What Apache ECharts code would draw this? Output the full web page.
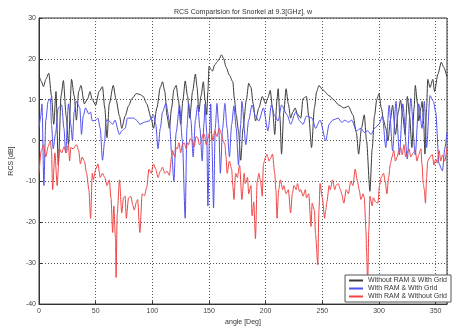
<!DOCTYPE html>
<html>
<head>
<meta charset="utf-8">
<script src="https://cdn.jsdelivr.net/npm/echarts@6/dist/echarts.min.js"></script>
<style>
  html, body { margin: 0; padding: 0; background: #fff; }
  #chart { width: 456px; height: 331px; }
</style>
</head>
<body>
<div id="chart"></div>
<script>
// Without RAM & With Grid
const blackDeg = [0,2,4,6,8.6,11,13,15,17,19.5,21.5,24,26,28.7,31,33,35,37,40,43,45,47,50,53,56,58,60,62,65.5,68,71,73,76,79,82,86,89,92,95,99,
  101,104,107,109,111,113,115,117,119,121,123,125,127,129,131,133,135.5,138,139.5,141,143,145,146.5,148,149,150,151.5,153,155,157,159,161,163,165,168,171,172.5,174,176,178,180,183,185,187,189,191,194,197,200,
  202,204,206,208,210,211,212.5,214,216,218,220,222,224,226,228,231,233,236,238,240.5,243,245,247,250,256,260,264.5,269,273,277,280,282,284.5,287,289,292,294,296,298,300,
  302,304,306,308,310,312,314.5,317,319,321,323,325,327,329,331,332,334,335,337,338,339.5,340.5,342,343,345,347.5,349,352,355,357,360];
const blackDb = [16,14.5,13.2,15,16.5,11,4,12,-6,11,14.7,6,-1,15,11,5,12,13.5,9,10.3,12,10,8.7,12,13.2,8,0.7,9,13.5,10,6,3,6,8.5,10.3,11.5,11.3,10.8,9,5.5,
  3,8,13,14.4,12,6,3,8,12.5,13.5,10,4,10,14.6,11,5.5,12,16.3,13,7,11,14.4,10,6.3,12,18.2,17.5,17,18.5,19.2,20,21,20,18,16,14.4,10,6.3,2.4,-4.8,3,10,14,13,9,4.8,8,10.8,9,
  10.5,12.3,8,1.5,10,12.7,6,-3.3,7,12.7,9,5.5,7,8,6.5,5.5,10.3,10.8,6,-1.7,8,12,13.5,12.5,11,10,8.7,8,8.4,6.3,2,-3.3,3,6.3,0,-12.4,-2,6,10,11.5,
  8,5,3,0,5,8.7,1.5,7,9.9,6,1.5,10.8,6,-1.7,8,13.5,9,4.8,8,9.6,4,-3.3,8,15,13,15,12,16.3,19.2,18,15.6];

// With RAM & With Grid
const blueDeg = [0,1.5,2.6,4.3,6,8,10,11,12.5,14.5,17,20,22,23.5,26,28,29.5,31,33,36,37.5,39,41,44,45.5,47,50,52,54,56,58,59,61,65,67,71,73,76,78,83.5,86,89,93,97,
  101,103,105,107,109,112,115,117,119,121,124,126.5,129,130.5,132,134,136,138,140,142,144,145.5,146.5,148,149,150.5,151.5,152.5,154,155.5,157,158.5,160,162,164,166,168,170,172,174,176,178,179,182.5,185,188,191,194,198,
  202,205,208,211,214,219,222,226.5,230,233,236,241,244,248,253,256,259,264,267,270,273,276,280,284,287,290,293,296,300,
  303,306,309,312,315,318,321,325,328,332,335,338,340,342,345,348,350,353,356,358,360];
const blueDb = [3,6,9,-11,5,9.6,10.3,4,-2,1.5,8,8.7,3,-3,9,4,0,7,9.6,8,1.5,6,8,6.5,7,4.8,5,5.5,3,-4.8,0,5,5,4,5,1.5,2.4,3,5.5,5.5,5,4,4.5,4.8,
  6.3,4,-2,3,7,9.1,5,-3,-10,2,8.7,0,-19,3,9.1,5,-4,5,8.7,3,-5,4,9,2,-16,2,9,0,-16.5,3,9.1,4,-8,3,9.1,3,-4,4,8.5,3,-6,4,9.6,-1,5,8.7,6,4.8,8,
  2.4,8.7,6,4.8,8.7,6.3,4,7,4.8,4,6,5.5,3,5,0,4,5,5.5,4.5,5,4.5,5,2.4,3,2,2.4,1.5,3,4,
  6,-1.7,8.7,-2.5,9.6,-3.5,9,-4.5,10.3,-3.5,9,3,9.6,-1.7,11,9.6,7,-5.7,-7.4,-2,2];

// With RAM & Without Grid
const redDeg = [0,2,4,6,8,10,11,12,14,16,18,20,22,24,26,27,28,30,33,35,36.5,38,40,42,44,45.5,47,48,50,52,54,56,58,60,62,63.5,65,66,67.5,68,69,71,73,74.5,76,77,79,81,83,84,86,87,89,91,93,95,97,99,
  101,103,105,107,109,111,113,115,117,118,119,120,121,122,123.5,125,126.5,128,130,131,132,133.5,135,137,138.5,140,141.5,143,144.5,146,147.5,149,150.5,152,153.5,155,157,159,161,162.5,164,165,166,168,170,171,172,173.5,175,177,179,181,182,184,185,187,188,189.5,191,192.5,194,195.5,197,198,200,
  201,203,204,206,208,209,210,211.5,213,215,216,218,220,222,223.5,225,227,228,230,231,233,235,236,238,240,241,243,244,246,247,248,250,252,253,254,256,257,259,261,262,264,266,267,269,271,273,275,277,279,281,282.5,284,286,287,288.5,289,290,291,292,294,295,297,299,
  300.5,302,304,305.5,307,308.5,310,311.5,313,314.5,316,317.5,319,320.5,322,323.5,325,326.5,328,330,332,333.5,335,337,338,339,340,341,342,343,345,347,348.5,350,351.5,353,354.5,356,358,360];
const redDb = [-8,-2.4,-1,-4,-1.5,0,-2.4,-12,-3,-11,-2,-3,-1.5,-3,-1,-5,-1.7,-2,-1,-2.4,-5.7,-4,-5,-8,-12,-19,-8,-9.6,-7,-5.7,-9,-8,-9,-11,-9.6,-14,-22.5,-16,-24,-33.5,-18,-9.6,-17.7,-14,-13.6,-19,-14,-13.6,-16,-17,-15,-14.4,-22.5,-13,-13.5,-11.5,-7,-8,
  -5.7,-7,-9,-7.5,-6.5,-8,-7.5,-8.5,-4,-2.4,-3.5,-4,-1.7,-2,-0.5,-3,-1,-0.5,-2,-0.5,-1,0.5,0,-1.5,1,0.7,-1,-0.5,1.5,1.5,-1,0.5,2,2,0,2.4,1,3,1.5,0,-1,-4,-8,-5,-7,-11,-14.4,-8,-9,-6,-14.4,-8,-10.5,-9,-13,-11,-18.4,-15,-24,-10,-8,-10,-13.6,-5.7,-4,
  -3.3,-5,-4.5,-3.3,-8,-12,-19,-12,-9.6,-12,-11,-13,-12,-17.7,-13,-11,-12,-10.5,-12.5,-12,-13.6,-12,-14,-13,-21,-15.3,-17,-23,-30.4,-17,-10.5,-14,-19,-17,-15,-11,-12,-9.6,-12,-11,-10.5,-12,-13,-15.3,-12,-13,-10,-11,-7,-10,-12,-14.4,-13,-14,-22,-27,-35,-22,-13.6,-16,-14,-15,-15.3,
  -11,-9,-8,-10,-13,-9,-5.7,-4,-2.4,-5,-4,-2.5,-1.7,-3.5,-1,-4,-3,-2,-4,-3,-2.4,-5,-3.5,-2,-6,-10.5,-12,-15.3,-9,-5,-4,-3.4,-6,-4.5,-5.5,-2.4,-5,-3.5,-5,-1.7];

const seriesNames = ['Without RAM & With Grid', 'With RAM & With Grid', 'With RAM & Without Grid'];
const xTicks = [0, 50, 100, 150, 200, 250, 300, 350];

const pairs = (xs, ys) => xs.map((x, i) => [x, ys[i]]);
const font = 'Liberation Sans, Arial, sans-serif';

const chart = echarts.init(document.getElementById('chart'), null, { renderer: 'canvas' });

const lineSeries = (name, data, color) => ({
  name: name,
  type: 'line',
  data: data,
  showSymbol: false,
  symbol: 'none',
  smooth: 0.25,
  smoothMonotone: 'x',
  lineStyle: { color: color, width: 1 },
  itemStyle: { color: color },
  animation: false
});

chart.setOption({
  backgroundColor: '#fff',
  animation: false,
  textStyle: { fontFamily: font },
  title: {
    text: 'RCS Comparision for Snorkel at 9.3[GHz], w',
    left: 238,
    textAlign: 'center',
    top: 4,
    textStyle: { fontSize: 7, fontWeight: 'normal', color: '#333', fontFamily: font }
  },
  grid: {
    left: 30, right: 9, top: 18, bottom: 21,
    show: true, borderColor: '#333', borderWidth: 1, backgroundColor: '#fff'
  },
  legend: {
    data: seriesNames,
    orient: 'vertical',
    right: 5,
    bottom: 29,
    itemWidth: 14,
    itemHeight: 2,
    itemGap: 1,
    icon: 'rect',
    padding: [2, 4, 2, 4],
    backgroundColor: '#fff',
    borderColor: '#555',
    borderWidth: 1,
    textStyle: { fontSize: 7, color: '#333', fontFamily: font }
  },
  xAxis: {
    type: 'value',
    min: 0, max: 360, interval: 50,
    name: 'angle [Deg]',
    nameLocation: 'middle',
    nameGap: 12,
    nameTextStyle: { fontSize: 7, color: '#333' },
    axisLine: { show: true, onZero: false, lineStyle: { color: '#333', width: 1 } },
    axisTick: { inside: true, length: 3, lineStyle: { color: '#333' } },
    axisLabel: {
      fontSize: 7, color: '#444', margin: 3, showMaxLabel: false,
      formatter: v => (xTicks.indexOf(v) >= 0 ? String(v) : '')
    },
    splitLine: { show: true, lineStyle: { color: '#555', type: [1, 2], width: 1 } }
  },
  yAxis: {
    type: 'value',
    min: -40, max: 30, interval: 10,
    name: 'RCS [dB]',
    nameLocation: 'middle',
    nameGap: 16,
    nameTextStyle: { fontSize: 7, color: '#333' },
    axisLine: { show: true, onZero: false, lineStyle: { color: '#333', width: 1 } },
    axisTick: { inside: true, length: 3, lineStyle: { color: '#333' } },
    axisLabel: { fontSize: 7, color: '#444', margin: 3 },
    splitLine: { show: true, lineStyle: { color: '#555', type: [1, 2], width: 1 } }
  },
  series: [
    lineSeries(seriesNames[0], pairs(blackDeg, blackDb), '#3a3a3a'),
    lineSeries(seriesNames[1], pairs(blueDeg, blueDb), '#5050ee'),
    lineSeries(seriesNames[2], pairs(redDeg, redDb), '#f04444')
  ]
});
</script>
</body>
</html>
